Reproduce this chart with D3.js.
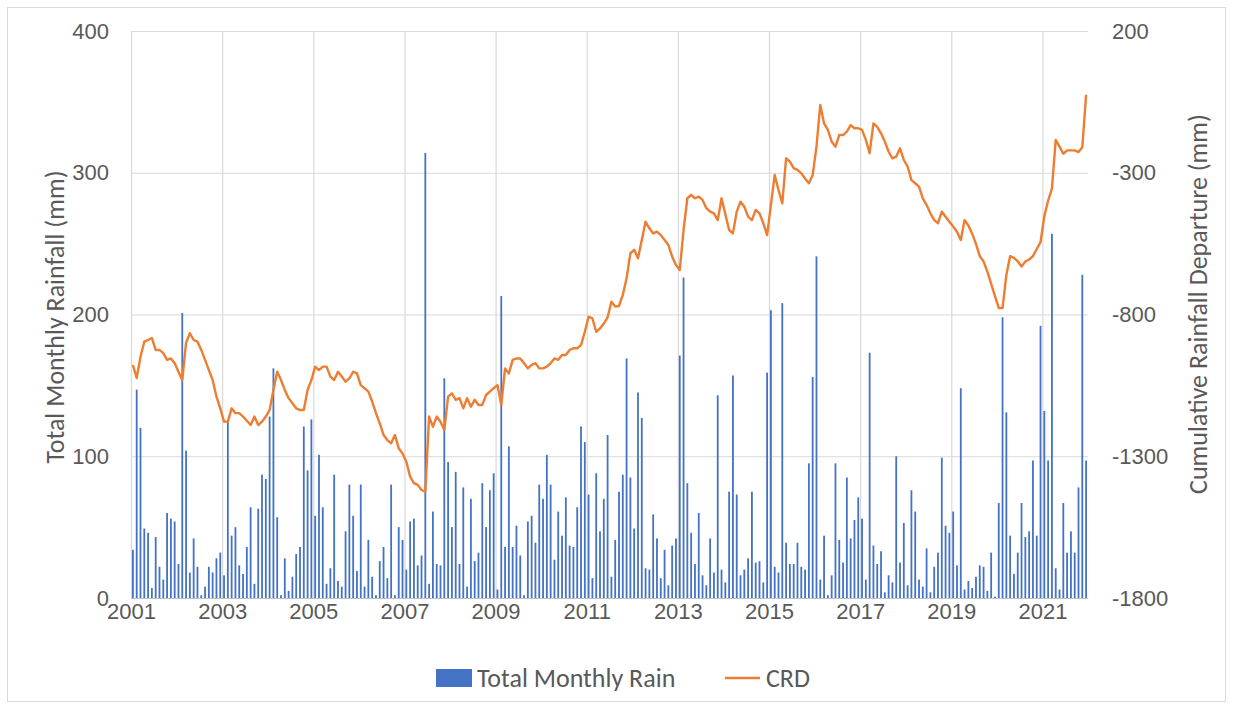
<!DOCTYPE html>
<html>
<head>
<meta charset="utf-8">
<title>Total Monthly Rain and CRD</title>
<style>
  body { margin: 0; background: #fff; }
  svg { display: block; font-family: Carlito, Calibri, Lato, sans-serif; }
  .tick text { fill: #595959; }
  .title { fill: #595959; }
</style>
</head>
<body>
<div id="chart"></div>
<script src="https://cdn.jsdelivr.net/npm/d3@7"></script>
<script>
// x-axis labels, one every 24 months starting Jan 2001
const yearLabels = ["2001", "2003", "2005", "2007", "2009", "2011", "2013", "2015", "2017", "2019", "2021"];
const leftTicks = [0, 100, 200, 300, 400];
const rightTicks = [200, -300, -800, -1300, -1800];

// total monthly rain (mm), Jan 2001 .. Dec 2021, one row per year
const rain = [
  34, 147, 120, 49, 46, 7, 43, 22, 13, 60, 56, 54,
  24, 201, 104, 18, 42, 22, 2, 8, 22, 18, 28, 32,
  16, 124, 44, 50, 23, 17, 36, 64, 10, 63, 87, 84,
  128, 162, 57, 2, 28, 5, 15, 31, 36, 121, 90, 126,
  58, 101, 64, 10, 21, 87, 12, 8, 47, 80, 58, 19,
  80, 8, 41, 15, 2, 26, 36, 14, 80, 2, 50, 41,
  20, 54, 56, 23, 30, 314, 10, 61, 24, 23, 155, 96,
  50, 89, 24, 78, 8, 70, 26, 32, 81, 50, 76, 88,
  6, 213, 36, 107, 36, 51, 30, 2, 54, 58, 39, 80,
  70, 101, 80, 27, 61, 44, 71, 37, 36, 64, 121, 110,
  73, 14, 88, 47, 70, 115, 15, 41, 75, 87, 169, 85,
  49, 145, 127, 21, 20, 59, 42, 14, 34, 9, 37, 42,
  171, 226, 81, 46, 24, 60, 16, 9, 42, 18, 143, 20,
  11, 75, 157, 73, 16, 20, 28, 75, 25, 26, 11, 159,
  203, 22, 18, 208, 39, 24, 24, 39, 22, 20, 95, 156,
  241, 13, 44, 2, 16, 95, 41, 25, 85, 42, 55, 71,
  56, 13, 173, 37, 24, 33, 4, 16, 11, 100, 25, 53,
  9, 76, 61, 13, 8, 35, 4, 22, 32, 99, 51, 46,
  61, 23, 148, 6, 12, 7, 15, 23, 22, 5, 32, 1,
  67, 198, 131, 44, 17, 32, 67, 43, 47, 97, 44, 192,
  132, 97, 257, 21, 6, 67, 32, 47, 32, 78, 228, 97
];

// cumulative rainfall departure (mm), same months
const crd = [
  -978, -1024, -949, -896, -890, -883, -925, -925, -936, -960, -955, -972,
  -1002, -1031, -900, -866, -890, -896, -925, -960, -996, -1031, -1090, -1131,
  -1178, -1178, -1131, -1148, -1148, -1160, -1175, -1190, -1160, -1190, -1178, -1160,
  -1137, -1066, -1002, -1031, -1066, -1095, -1113, -1131, -1137, -1137, -1066, -1031,
  -984, -996, -984, -984, -1019, -1031, -1002, -1019, -1037, -1025, -1002, -1008,
  -1049, -1060, -1072, -1107, -1148, -1184, -1225, -1243, -1254, -1225, -1272, -1290,
  -1319, -1372, -1395, -1401, -1419, -1425, -1160, -1196, -1160, -1178, -1207, -1090,
  -1078, -1101, -1095, -1131, -1095, -1125, -1101, -1119, -1119, -1084, -1072, -1060,
  -1049, -1119, -990, -1008, -960, -955, -955, -972, -990, -978, -972, -990,
  -990, -984, -972, -955, -960, -943, -943, -925, -919, -919, -908, -861,
  -808, -814, -861, -849, -832, -810, -755, -772, -770, -731, -672, -584,
  -572, -602, -537, -473, -496, -514, -508, -520, -537, -555, -596, -625,
  -643, -502, -390, -378, -390, -384, -396, -425, -437, -443, -467, -390,
  -446, -502, -514, -437, -402, -420, -455, -467, -431, -443, -478, -520,
  -414, -308, -361, -408, -249, -261, -284, -290, -302, -320, -337, -308,
  -208, -61, -126, -149, -190, -208, -167, -167, -155, -132, -143, -143,
  -149, -184, -231, -126, -138, -161, -190, -226, -249, -243, -214, -255,
  -278, -326, -337, -349, -390, -414, -443, -467, -478, -437, -455, -473,
  -490, -508, -537, -467, -486, -515, -551, -594, -613, -649, -692, -735,
  -777, -777, -661, -594, -600, -613, -631, -613, -606, -594, -569, -545,
  -453, -398, -356, -184, -208, -233, -221, -221, -221, -227, -210, -25
];

const width = 1233, height = 709;
const margin = { top: 31, right: 145, bottom: 111, left: 131 };
const plotW = width - margin.left - margin.right;
const plotH = height - margin.top - margin.bottom;

const blue = "#4472C4", orange = "#ED7D31", grid = "#d9d9d9";

const svg = d3.select("#chart").append("svg")
  .attr("width", width)
  .attr("height", height);

// chart border
svg.append("rect")
  .attr("x", 7.5).attr("y", 7.5)
  .attr("width", width - 15).attr("height", height - 15)
  .attr("fill", "none").attr("stroke", "#d9d9d9");

const g = svg.append("g").attr("transform", `translate(${margin.left},${margin.top})`);

const months = d3.range(rain.length);
const x = d3.scaleBand().domain(months).range([0, plotW]).padding(0);
const xLin = d3.scaleLinear().domain([0, rain.length]).range([0, plotW]);
const yL = d3.scaleLinear().domain([0, 400]).range([plotH, 0]);
const yR = d3.scaleLinear().domain([-1800, 200]).range([plotH, 0]);

// horizontal gridlines
g.append("g")
  .call(d3.axisLeft(yL).tickValues(leftTicks.slice(1)).tickSize(-plotW).tickFormat(""))
  .call(s => s.select(".domain").remove())
  .call(s => s.selectAll("line").attr("stroke", grid).attr("stroke-width", 1.2));

// vertical gridlines every 2 years
const tickIdx = yearLabels.map((d, i) => i * 24);
g.append("g")
  .attr("transform", `translate(0,${plotH})`)
  .call(d3.axisBottom(xLin).tickValues(tickIdx).tickSize(-plotH).tickFormat(""))
  .call(s => s.select(".domain").remove())
  .call(s => s.selectAll("line").attr("stroke", grid).attr("stroke-width", 1.2));

// bars
g.append("g")
  .selectAll("rect")
  .data(rain)
  .join("rect")
  .attr("x", (d, i) => x(i) + x.bandwidth() / 2 - 0.9)
  .attr("width", 1.8)
  .attr("y", d => yL(d))
  .attr("height", d => plotH - yL(d))
  .attr("fill", blue);

// bottom axis line
g.append("line")
  .attr("x1", 0).attr("x2", plotW)
  .attr("y1", plotH + 0.5).attr("y2", plotH + 0.5)
  .attr("stroke", "#bfbfbf").attr("stroke-width", 1.2);

// CRD line
const line = d3.line()
  .x((d, i) => x(i) + x.bandwidth() / 2)
  .y(d => yR(d));

g.append("path")
  .datum(crd)
  .attr("d", line)
  .attr("fill", "none")
  .attr("stroke", orange)
  .attr("stroke-width", 2.4)
  .attr("stroke-linejoin", "round");

// axes labels
const tickSize = 22;
const titleSize = 26;

g.append("g")
  .call(d3.axisLeft(yL).tickValues(leftTicks).tickSize(0).tickPadding(22))
  .call(s => s.select(".domain").remove())
  .call(s => s.selectAll("text").attr("font-size", tickSize).style("font-family", null));

g.append("g")
  .attr("transform", `translate(${plotW},0)`)
  .call(d3.axisRight(yR).tickValues(rightTicks).tickSize(0).tickPadding(24)
    .tickFormat(d => String(d)))
  .call(s => s.select(".domain").remove())
  .call(s => s.selectAll("text").attr("font-size", tickSize).style("font-family", null));

g.append("g")
  .attr("transform", `translate(0,${plotH})`)
  .call(d3.axisBottom(xLin).tickValues(tickIdx).tickSize(0).tickPadding(5)
    .tickFormat((d, i) => yearLabels[i]))
  .call(s => s.select(".domain").remove())
  .call(s => s.selectAll("text").attr("font-size", tickSize).style("font-family", null));

// axis titles
svg.append("text")
  .attr("class", "title")
  .attr("transform", "translate(64,317) rotate(-90)")
  .attr("text-anchor", "middle")
  .attr("font-size", titleSize)
  .text("Total Monthly Rainfall (mm)");

svg.append("text")
  .attr("class", "title")
  .attr("transform", "translate(1207,304) rotate(-90)")
  .attr("text-anchor", "middle")
  .attr("font-size", titleSize)
  .text("Cumulative Rainfall Departure (mm)");

// legend
const legend = svg.append("g").attr("transform", "translate(436,678)");
legend.append("rect")
  .attr("x", 0).attr("y", -9)
  .attr("width", 36).attr("height", 18)
  .attr("fill", blue);
legend.append("text")
  .attr("class", "title")
  .attr("x", 41).attr("y", 9)
  .attr("font-size", titleSize)
  .text("Total Monthly Rain");
legend.append("line")
  .attr("x1", 289).attr("x2", 324)
  .attr("y1", 0).attr("y2", 0)
  .attr("stroke", orange).attr("stroke-width", 2.4);
legend.append("text")
  .attr("class", "title")
  .attr("x", 330).attr("y", 9)
  .attr("font-size", titleSize)
  .text("CRD");
</script>
</body>
</html>
